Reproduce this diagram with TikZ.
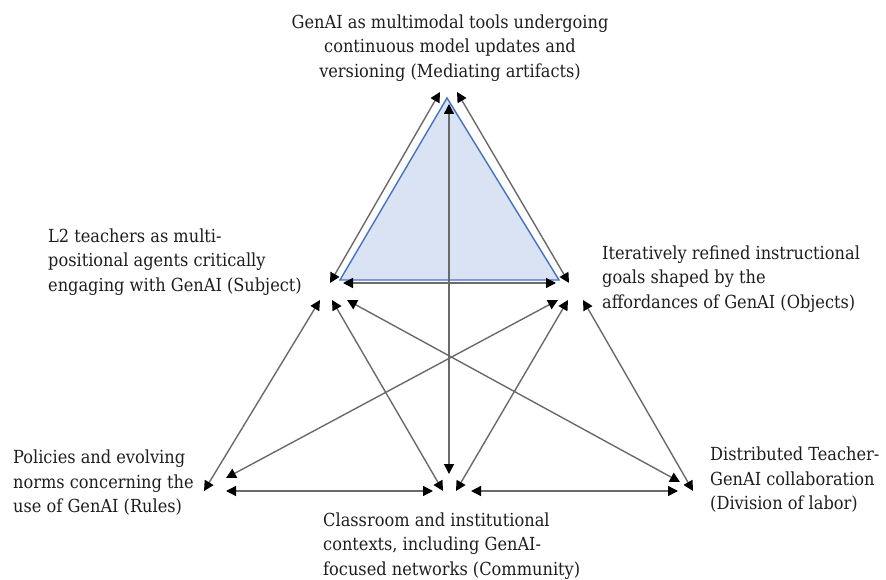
\documentclass[tikz,border=0pt]{standalone}
\usepackage{fontspec}
\setmainfont{DejaVu Serif Condensed}
\usetikzlibrary{arrows.meta}
\definecolor{linegray}{HTML}{6A6A6A}
\definecolor{textgray}{HTML}{1E1E1E}
\definecolor{triblue}{HTML}{DAE3F3}
\definecolor{triedge}{HTML}{4472C4}
\begin{document}
\begin{tikzpicture}[x=1pt,y=-1pt,
  tip/.tip={Triangle[length=10pt,width=10pt,color=black,fill=black]},
  link/.style={draw=linegray,line width=1.4pt,tip-tip},
  lbl/.style={font=\fontsize{18}{24.5}\selectfont,text=textgray,inner sep=0pt,align=left}]
\useasboundingbox (0,0) rectangle (886,580);

% shaded triangle of the activity system
\filldraw[fill=triblue,draw=triedge,line width=1.4pt,line join=miter]
  (447,98) -- (340,280) -- (559,280) -- cycle;

% labels of the six components
\node[lbl,align=center] (tool) at (450,48)
  {GenAI as multimodal tools undergoing\\continuous model updates and\\versioning (Mediating artifacts)};
\node[lbl,anchor=west] (subject) at (48,262)
  {L2 teachers as multi-\\positional agents critically\\engaging with GenAI (Subject)};
\node[lbl,anchor=west] (object) at (602,279)
  {Iteratively refined instructional\\goals shaped by the\\affordances of GenAI (Objects)};
\node[lbl,anchor=west] (rules) at (13,483)
  {Policies and evolving\\norms concerning the\\use of GenAI (Rules)};
\node[lbl,anchor=west] (community) at (323,546)
  {Classroom and institutional\\contexts, including GenAI-\\focused networks (Community)};
\node[lbl,anchor=west] (labor) at (710,480)
  {Distributed Teacher-\\GenAI collaboration\\(Division of labor)};

% arrow end points around each component
\coordinate (apexL) at (440,92);
\coordinate (apexR) at (457,92);
\coordinate (apexC) at (449,104);
\coordinate (subA) at (330,283);
\coordinate (subO) at (343,283);
\coordinate (subR) at (320,300);
\coordinate (subC) at (332,300);
\coordinate (subD) at (347,300);
\coordinate (objS) at (556,283);
\coordinate (objA) at (569,283);
\coordinate (objR) at (558,300);
\coordinate (objC) at (568,300);
\coordinate (objD) at (583,300);
\coordinate (rulS) at (204,491);
\coordinate (rulO) at (226,478);
\coordinate (rulC) at (226,491);
\coordinate (comA) at (449,474);
\coordinate (comR) at (433,491);
\coordinate (comS) at (443,491);
\coordinate (comO) at (456,491);
\coordinate (comD) at (471,491);
\coordinate (dolS) at (680,482);
\coordinate (dolC) at (678,491);
\coordinate (dolO) at (693,491);

% connectors
\draw[link] (apexL) -- (subA);
\draw[link] (apexR) -- (objA);
\draw[link] (apexC) -- (comA);
\draw[link] (subO) -- (objS);
\draw[link] (subR) -- (rulS);
\draw[link] (subC) -- (comS);
\draw[link] (subD) -- (dolS);
\draw[link] (objR) -- (rulO);
\draw[link] (objC) -- (comO);
\draw[link] (objD) -- (dolO);
\draw[link] (rulC) -- (comR);
\draw[link] (comD) -- (dolC);
\end{tikzpicture}
\end{document}
